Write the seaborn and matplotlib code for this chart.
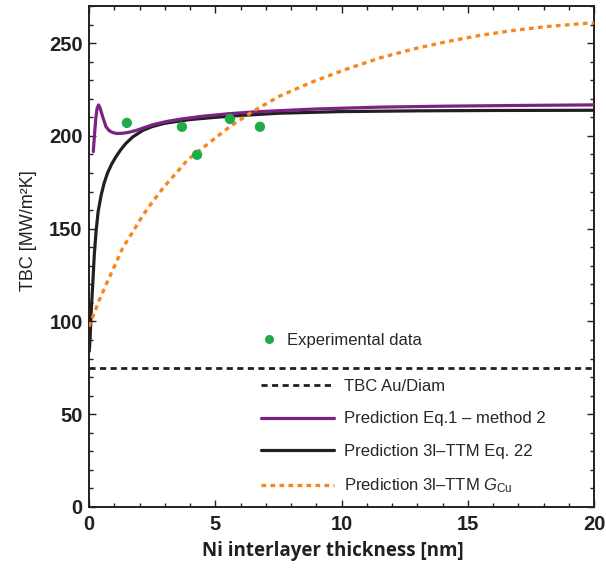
import matplotlib
matplotlib.use('Agg')
import matplotlib.pyplot as plt
from matplotlib.ticker import MultipleLocator
from matplotlib.lines import Line2D
import seaborn as sns
import pandas as pd

# ============================================================
# Data
# ============================================================
# Experimental points
exp_x = [1.5, 3.68, 4.28, 5.58, 6.77]
exp_y = [207.0, 204.9, 189.8, 209.1, 204.9]

# TBC Au/Diam (constant)
tbc_audiam = 74.7

# Prediction Eq.1 - method 2 (purple)
eq1_x = [0.17, 0.22, 0.27, 0.32, 0.38, 0.44, 0.54, 0.67, 0.8, 0.94, 1.1, 1.33,
         1.6, 1.86, 2.2, 2.52, 3.05, 3.6, 4.5, 5.5, 6.5, 7.56, 9.0, 11.5,
         14.0, 17.0, 20.0]
eq1_y = [191.5, 201.0, 209.5, 214.8, 216.7, 215.0, 210.4, 205.0, 202.8, 201.8,
         201.3, 201.4, 202.0, 202.9, 204.5, 206.0, 207.7, 209.0, 210.6, 211.9,
         212.9, 213.6, 214.5, 215.5, 216.0, 216.4, 216.7]

# Prediction 3l-TTM Eq. 22 (black)
eq22_x = [0.01, 0.04, 0.09, 0.15, 0.21, 0.28, 0.36, 0.48, 0.6, 0.74, 0.9, 1.07,
          1.25, 1.45, 1.73, 2.12, 2.5, 3.0, 4.0, 5.0, 6.0, 7.5, 10.0, 13.0,
          16.0, 20.0]
eq22_y = [84.0, 90.0, 106.0, 120.6, 136.0, 148.5, 159.0, 168.0, 174.6, 180.2,
          184.9, 188.8, 192.4, 195.8, 199.4, 202.9, 205.0, 206.8, 208.8, 210.0,
          211.0, 212.2, 213.1, 213.5, 213.7, 213.8]

# Prediction 3l-TTM G_Cu (orange)
gcu_x = [0.0, 0.41, 0.7, 1.0, 1.33, 1.7, 2.1, 2.52, 2.98, 3.45, 3.9, 4.57,
         5.58, 6.5, 7.56, 8.88, 10.2, 11.52, 12.84, 14.17, 15.5, 16.8, 18.1, 20.0]
gcu_y = [97.2, 111.6, 120.6, 129.5, 139.5, 147.5, 156.5, 164.6, 172.7, 179.9,
         187.0, 194.2, 205.0, 213.3, 221.5, 229.3, 236.0, 242.0, 246.8, 250.8,
         254.2, 256.8, 258.9, 261.0]

# ============================================================
# Style
# ============================================================
sns.set_style('ticks')
plt.rcParams['font.family'] = ['Liberation Sans', 'DejaVu Sans']
plt.rcParams['mathtext.fontset'] = 'custom'
plt.rcParams['mathtext.rm'] = 'Liberation Sans'
plt.rcParams['mathtext.it'] = 'Liberation Sans:italic'

PURPLE = '#7c2283'
BLACK = '#231f20'
ORANGE = '#f7861f'
GREEN = '#1fab4a'

fig = plt.figure(figsize=(6.06, 5.74), dpi=100)
ax = fig.add_axes([89 / 606, 1 - 507 / 574, 505 / 606, 501 / 574])

ax.axhline(tbc_audiam, color=BLACK, lw=2.0, ls=(0, (2.2, 1.6)), zorder=2)

sns.lineplot(data=pd.DataFrame({'x': eq22_x, 'y': eq22_y}), x='x', y='y',
             ax=ax, color=BLACK, lw=2.3, zorder=3, sort=False)
sns.lineplot(data=pd.DataFrame({'x': eq1_x, 'y': eq1_y}), x='x', y='y',
             ax=ax, color=PURPLE, lw=2.3, zorder=4, sort=False)
sns.lineplot(data=pd.DataFrame({'x': gcu_x, 'y': gcu_y}), x='x', y='y',
             ax=ax, color=ORANGE, lw=2.4, ls=(0, (1.4, 1.3)), zorder=5, sort=False)
sns.scatterplot(data=pd.DataFrame({'x': exp_x, 'y': exp_y}), x='x', y='y',
                ax=ax, color=GREEN, s=55, edgecolor='none', zorder=6)

ax.set_xlim(0, 20)
ax.set_ylim(0, 270)
ax.xaxis.set_major_locator(MultipleLocator(5))
ax.xaxis.set_minor_locator(MultipleLocator(1))
ax.yaxis.set_major_locator(MultipleLocator(50))
ax.yaxis.set_minor_locator(MultipleLocator(10))
ax.tick_params(which='both', direction='in', top=True, right=True,
               color=BLACK, width=1.0)
ax.tick_params(which='major', length=5)
ax.tick_params(which='minor', length=2.8)
ax.tick_params(axis='x', pad=5.5)
ax.tick_params(axis='y', pad=4.5)
for lab in ax.get_xticklabels() + ax.get_yticklabels():
    lab.set_fontweight('bold')
    lab.set_fontsize(14.5)
    lab.set_color(BLACK)
for sp in ax.spines.values():
    sp.set_linewidth(1.4)
    sp.set_color(BLACK)

ax.set_xlabel('Ni interlayer thickness [nm]', family='Open Sans',
              fontweight='bold', fontsize=13.5, color=BLACK)
ax.set_ylabel('TBC [MW/m²K]', fontsize=13, color=BLACK)
ax.xaxis.set_label_coords((333 - 89) / 505, -(541 - 507) / 501)
ax.yaxis.set_label_coords(-(89 - 37) / 505, (507 - 231) / 501)

# ============================================================
# Legends
# ============================================================
exp_handle = [Line2D([], [], ls='none', marker='o', ms=6.5, color=GREEN,
                     mec='none')]
leg1 = ax.legend(exp_handle, ['Experimental data'], loc='upper left',
                 bbox_to_anchor=((261 - 89) / 505, (507 - 333) / 501),
                 frameon=False, fontsize=12, handlelength=1.0,
                 handletextpad=0.58, borderpad=0, borderaxespad=0)
ax.add_artist(leg1)

line_handles = [
    Line2D([], [], color=BLACK, lw=2.0, ls=(0, (2.2, 1.6))),
    Line2D([], [], color=PURPLE, lw=2.3),
    Line2D([], [], color=BLACK, lw=2.3),
    Line2D([], [], color=ORANGE, lw=2.4, ls=(0, (1.4, 1.3))),
]
line_labels = ['TBC Au/Diam', 'Prediction Eq.1 – method 2',
               'Prediction 3l–TTM Eq. 22', r'Prediction 3l–TTM $G_{\mathrm{Cu}}$']
ax.legend(line_handles, line_labels, loc='upper left',
          bbox_to_anchor=((261 - 89) / 505, (507 - 379) / 501),
          frameon=False, fontsize=12, handlelength=4.4, handletextpad=0.55,
          labelspacing=1.05, borderpad=0, borderaxespad=0)

fig.savefig('out.png', dpi=100)
